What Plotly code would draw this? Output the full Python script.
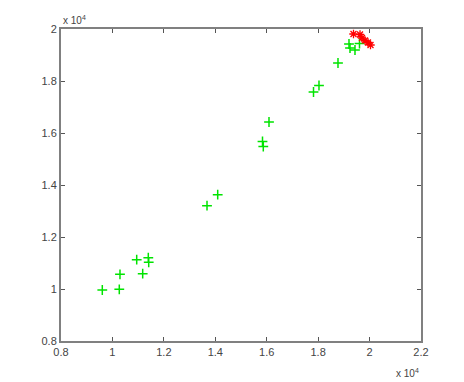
import plotly.graph_objects as go

# green '+' points
green_x = [9606, 10267, 10294, 10944, 11177, 11395, 11411, 13678, 14094, 15836,
           15867, 16089, 17820, 18033, 18772, 19200, 19239, 19433, 19608]
green_y = [9962, 9988, 10565, 11127, 10588, 11204, 11027, 13204, 13627, 15673,
           15481, 16423, 17577, 17827, 18692, 19423, 19269, 19192, 19442]

# red '*' points
red_x = [19375, 19628, 19706, 19822, 19939, 20036]
red_y = [19808, 19788, 19654, 19558, 19481, 19385]

x_ticks = [8000, 10000, 12000, 14000, 16000, 18000, 20000, 22000]
x_tick_labels = ["0.8", "1", "1.2", "1.4", "1.6", "1.8", "2", "2.2"]
y_ticks = [8000, 10000, 12000, 14000, 16000, 18000, 20000]
y_tick_labels = ["0.8", "1", "1.2", "1.4", "1.6", "1.8", "2"]

fig = go.Figure()
fig.add_trace(go.Scatter(
    x=green_x, y=green_y, mode="markers",
    marker=dict(symbol="cross-thin", size=7, color="#00ff00",
                line=dict(color="#00e400", width=1.5)),
    showlegend=False))
fig.add_trace(go.Scatter(
    x=red_x, y=red_y, mode="markers",
    marker=dict(symbol="asterisk", size=7, color="#ff0000",
                line=dict(color="#ff0000", width=1.3)),
    showlegend=False))

axis_common = dict(
    showgrid=False, zeroline=False, showline=True, linecolor="#808080",
    linewidth=2, mirror="ticks", ticks="inside", ticklen=4, tickcolor="#555555",
    tickwidth=1, tickfont=dict(family="Liberation Sans, Arial", size=11, color="#444444"),
)
fig.update_xaxes(range=[8000, 22000], tickvals=x_ticks, ticktext=x_tick_labels, **axis_common)
fig.update_yaxes(range=[8000, 20000], tickvals=y_ticks, ticktext=y_tick_labels, **axis_common)

fig.add_annotation(text="x 10<sup>4</sup>", xref="paper", yref="paper", x=0.0, y=1.0,
                   xanchor="left", yanchor="bottom", yshift=1, showarrow=False,
                   font=dict(family="Liberation Sans, Arial", size=10, color="#444444"))
fig.add_annotation(text="x 10<sup>4</sup>", xref="paper", yref="paper", x=1.0, y=0.0,
                   xanchor="right", yanchor="top", yshift=-24, showarrow=False,
                   font=dict(family="Liberation Sans, Arial", size=10, color="#444444"))

fig.update_layout(
    width=456, height=374,
    margin=dict(l=53, r=43, t=21, b=41),
    paper_bgcolor="white", plot_bgcolor="white",
)
fig.write_html("out.html")
